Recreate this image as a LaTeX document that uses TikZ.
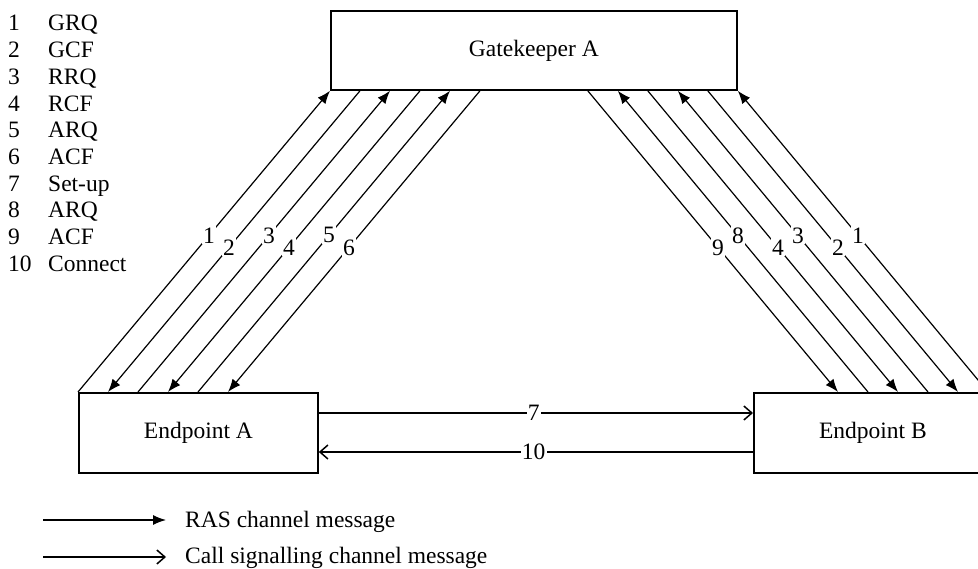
\documentclass[tikz,border=0pt]{standalone}
\usepackage{fontspec}
\setmainfont{Liberation Serif}
\usetikzlibrary{arrows.meta,calc}
\begin{document}
\begin{tikzpicture}[x=1pt,y=-1pt,
  box/.style={draw, line width=1.8pt, inner sep=0pt, anchor=north west, font=\fontsize{23.5}{26}\selectfont},
  ras/.style={line width=1.2pt, -{Latex[length=13pt,width=10pt]}},
  call/.style={line width=1.5pt, -{Straight Barb[length=8pt,width=14pt,line width=1.5pt]}},
  lbl/.style={fill=white, inner sep=1.2pt, font=\fontsize{23.5}{26}\selectfont},
  txt/.style={font=\fontsize{23.5}{26}\selectfont, inner sep=0pt, anchor=base west}]
\useasboundingbox (0,0) rectangle (978,569);

% boxes
\node[box, minimum width=406pt, minimum height=79pt] (gk) at (330,10) {Gatekeeper A};
\node[box, minimum width=239pt, minimum height=80pt] (epA) at (78,392) {Endpoint A};
\node[box, minimum width=238pt, minimum height=80pt] (epB) at (753,392) {Endpoint B};

% left side coordinates (bottom on Endpoint A, top on Gatekeeper A)
\foreach \i in {0,...,5}{
  \coordinate (La\i) at ($(epA.north west)+(30*\i,0)$);
  \coordinate (Lg\i) at ($(gk.south west)+(30*\i,0)$);
}
% right side coordinates
\foreach \k in {0,...,5}{
  \coordinate (Rb\k) at ($(epB.north west)+(235-30*\k,0)$);
  \coordinate (Rg\k) at ($(gk.south east)+(-30*\k,0)$);
}

% left messages
\draw[ras] (La0) -- node[lbl, pos=0.52] {1} (Lg0);
\draw[ras] (Lg1) -- node[lbl, pos=0.52] {2} (La1);
\draw[ras] (La2) -- node[lbl, pos=0.52] {3} (Lg2);
\draw[ras] (Lg3) -- node[lbl, pos=0.52] {4} (La3);
\draw[ras] (La4) -- node[lbl, pos=0.52] {5} (Lg4);
\draw[ras] (Lg5) -- node[lbl, pos=0.52] {6} (La5);

% right messages
\draw[ras] (Rb0) -- node[lbl, pos=0.52] {1} (Rg0);
\draw[ras] (Rg1) -- node[lbl, pos=0.52] {2} (Rb1);
\draw[ras] (Rb2) -- node[lbl, pos=0.52] {3} (Rg2);
\draw[ras] (Rg3) -- node[lbl, pos=0.52] {4} (Rb3);
\draw[ras] (Rb4) -- node[lbl, pos=0.52] {8} (Rg4);
\draw[ras] (Rg5) -- node[lbl, pos=0.52] {9} (Rb5);

% call signalling messages
\coordinate (a7) at ($(epA.north east)+(0,21)$);
\coordinate (b7) at ($(epB.north west)+(0,21)$);
\coordinate (a10) at ($(epA.north east)+(0,60)$);
\coordinate (b10) at ($(epB.north west)+(0,60)$);
\draw[call] (a7) -- node[lbl, pos=0.495] {7} (b7);
\draw[call] (b10) -- node[lbl, pos=0.505] {10} (a10);

% legend list
\foreach \n/\t [count=\r from 0] in {1/GRQ,2/GCF,3/RRQ,4/RCF,5/ARQ,6/ACF,7/Set-up,8/ARQ,9/ACF,10/Connect}{
  \node[txt] (ln\n) at (8,{31+26.7*\r}) {\n};
  \node[txt] (lt\n) at (48,{31+26.7*\r}) {\t};
}

% bottom legend
\coordinate (rs) at (43,520);
\coordinate (re) at (166,520);
\coordinate (cs) at (43,557);
\coordinate (ce) at (166,557);
\draw[ras] (rs) -- (re);
\draw[call] (cs) -- (ce);
\node[txt] (rast) at (185,527) {RAS channel message};
\node[txt] (callt) at (185,563.5) {Call signalling channel message};
\end{tikzpicture}
\end{document}
